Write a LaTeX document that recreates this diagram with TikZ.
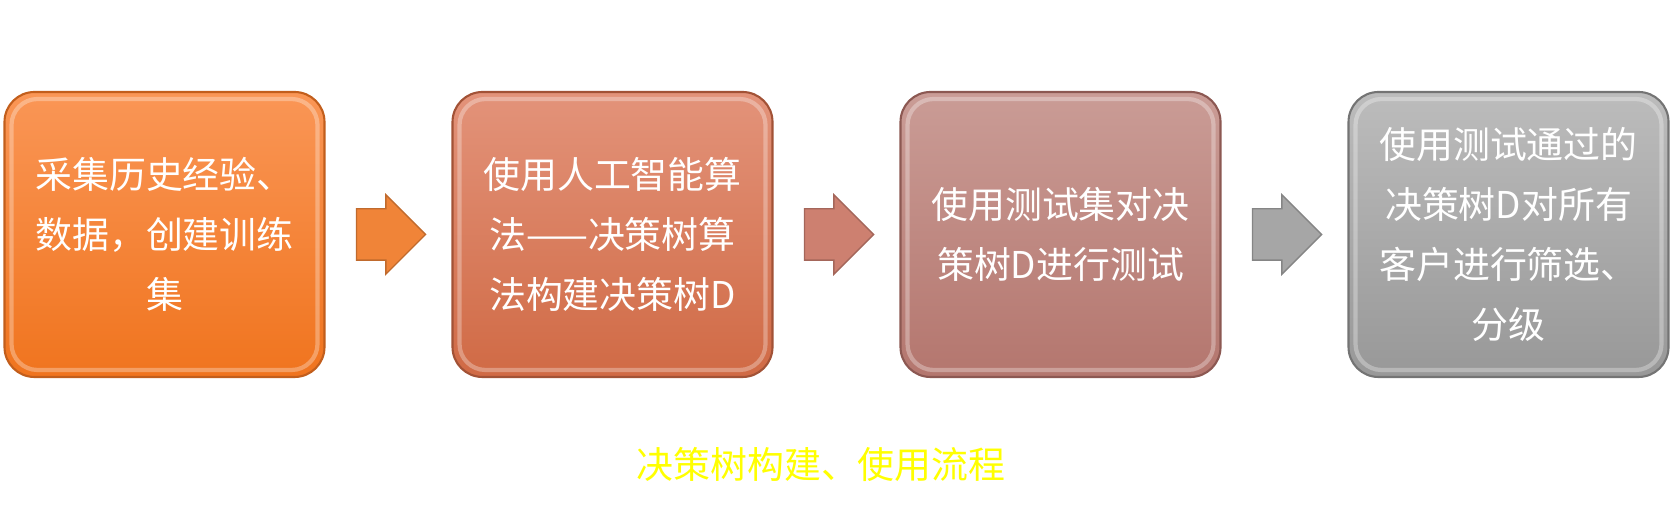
\documentclass[tikz,border=0pt]{standalone}
\usepackage{fontspec}
\setmainfont{Noto Sans CJK SC}
\usepackage{xcolor}
\usetikzlibrary{positioning,shapes.arrows}

\definecolor{stepAtop}{HTML}{FA9656}
\definecolor{stepAbot}{HTML}{F0741E}
\definecolor{stepAline}{HTML}{C25E1C}
\definecolor{stepBtop}{HTML}{E3937A}
\definecolor{stepBbot}{HTML}{D06A45}
\definecolor{stepBline}{HTML}{A25236}
\definecolor{stepCtop}{HTML}{CA9C96}
\definecolor{stepCbot}{HTML}{B4766E}
\definecolor{stepCline}{HTML}{8C5852}
\definecolor{stepDtop}{HTML}{BCBCBC}
\definecolor{stepDbot}{HTML}{989898}
\definecolor{stepDline}{HTML}{747474}
\definecolor{arrowA}{HTML}{F08438}
\definecolor{arrowB}{HTML}{CD8070}
\definecolor{arrowC}{HTML}{A6A6A6}
\definecolor{captionyellow}{HTML}{FFFF00}

\tikzset{
  stepbox/.style={rounded corners=0.3cm, minimum width=3.2cm, minimum height=2.85cm,
    text width=2.75cm, align=center, text=white, font=\fontsize{10.5pt}{17pt}\selectfont,
    line width=0.6pt, inner sep=0pt, outer sep=0pt},
  flowarrow/.style={single arrow, minimum height=0.69cm, inner xsep=0pt, inner ysep=0.25cm,
    single arrow head extend=0.14cm, single arrow head indent=0cm, outer sep=0pt,
    draw=#1!80!black, fill=#1, line width=0.4pt},
  hilite/.style={draw=white, opacity=0.3, line width=1.2pt, rounded corners=0.26cm}
}

\begin{document}
\begin{tikzpicture}
\useasboundingbox (0,0) rectangle (16.75,5.06);

% the four steps
\node[stepbox, top color=stepAtop, bottom color=stepAbot, draw=stepAline] (collect) at (1.645,2.715)
  {采集历史经验、\\数据，创建训练\\集};
\node[stepbox, top color=stepBtop, bottom color=stepBbot, draw=stepBline, right=1.28cm of collect] (build)
  {使用人工智能算\\法——决策树算\\法构建决策树D};
\node[stepbox, top color=stepCtop, bottom color=stepCbot, draw=stepCline, right=1.28cm of build] (test)
  {使用测试集对决\\策树D进行测试};
\node[stepbox, top color=stepDtop, bottom color=stepDbot, draw=stepDline, right=1.28cm of test] (apply)
  {使用测试通过的\\决策树D对所有\\客户进行筛选、\\分级};

% inner highlight of each box
\foreach \b in {collect,build,test,apply}
  \draw[hilite] ([shift={(0.07,-0.07)}]\b.north west) rectangle ([shift={(-0.07,0.07)}]\b.south east);

% arrows between the steps
\foreach \from/\col in {collect/arrowA, build/arrowB, test/arrowC}
  \node[flowarrow=\col, right=0.32cm of \from] (\from-next) {};

\node[text=captionyellow, font=\fontsize{10.5pt}{13pt}\selectfont] (caption) at (8.21,0.41)
  {决策树构建、使用流程};
\end{tikzpicture}
\end{document}
